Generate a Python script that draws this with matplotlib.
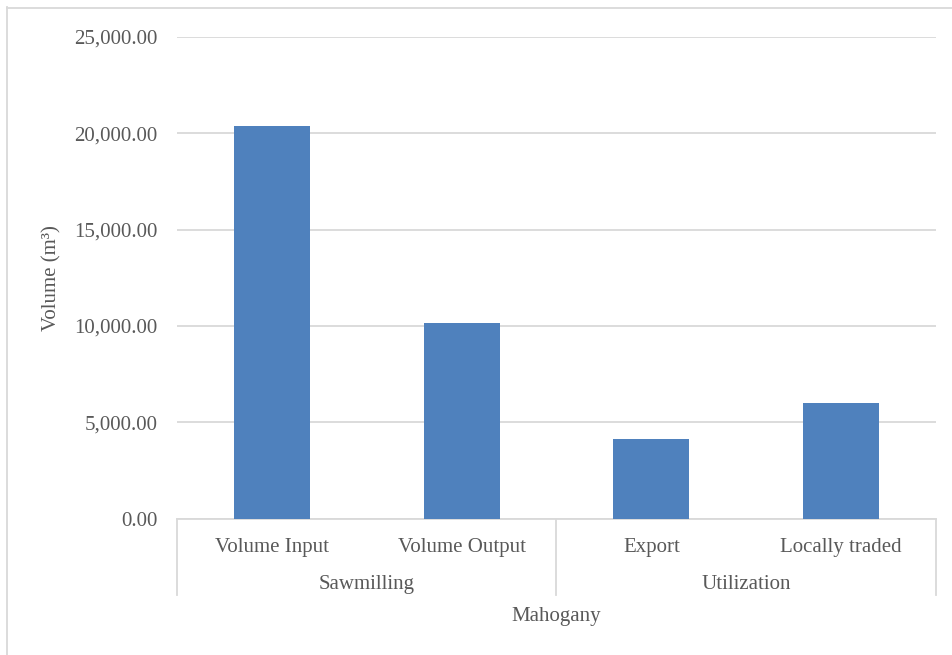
import matplotlib
matplotlib.use('Agg')
import matplotlib.pyplot as plt
from matplotlib.lines import Line2D
from matplotlib.ticker import FuncFormatter

# values (m3)
categories = ['Volume Input', 'Volume Output', 'Export', 'Locally traded']
groups = ['Sawmilling', 'Utilization']
group_sizes = [2, 2]
outer_label = 'Mahogany'
volumes = [20400, 10130, 4130, 5980]

bar_color = '#4f81bd'
grid_color = '#d9d9d9'
text_color = '#595959'

plt.rcParams['font.family'] = ['Liberation Serif', 'DejaVu Serif']
plt.rcParams['font.size'] = 15

W, H = 953, 655
fig = plt.figure(figsize=(W / 100, H / 100), dpi=100)

# plot area in pixels
x0, x1 = 177, 936
y_top, y_bot = 37, 518.5
ax = fig.add_axes([x0 / W, 1 - y_bot / H, (x1 - x0) / W, (y_bot - y_top) / H])

xs = list(range(len(categories)))
ax.bar(xs, volumes, width=0.4, color=bar_color, zorder=3)

ax.set_xlim(-0.5, len(categories) - 0.5)
ax.set_ylim(0, 25000)
ax.set_yticks(range(0, 25001, 5000))
ax.yaxis.set_major_formatter(FuncFormatter(lambda v, p: '{:,.2f}'.format(v)))
ax.tick_params(axis='y', length=0, pad=14, labelcolor=text_color)
ax.set_xticks([])
ax.grid(axis='y', color=grid_color, linewidth=1.3, zorder=0)
for s in ['top', 'right', 'left']:
    ax.spines[s].set_visible(False)
ax.spines['bottom'].set_color(grid_color)
ax.spines['bottom'].set_linewidth(1.3)

# multi-level category axis
ph = y_bot - y_top
trans = ax.get_xaxis_transform()
line_end = -(595 - y_bot) / ph
bounds = [-0.5]
for n in group_sizes:
    bounds.append(bounds[-1] + n)
for b in bounds:
    ax.plot([b, b], [0, line_end], transform=trans, color=grid_color,
            linewidth=1.3, clip_on=False)

for x, lab in zip(xs, categories):
    ax.text(x, -(552 - y_bot) / ph, lab, transform=trans, ha='center',
            va='baseline', color=text_color)
for i, g in enumerate(groups):
    mid = (bounds[i] + bounds[i + 1]) / 2
    ax.text(mid, -(589 - y_bot) / ph, g, transform=trans, ha='center',
            va='baseline', color=text_color)
ax.text((bounds[0] + bounds[-1]) / 2, -(621 - y_bot) / ph, outer_label,
        transform=trans, ha='center', va='baseline', color=text_color)

fig.text(52 / W, 1 - 278 / H, 'Volume (m³)', rotation=90, ha='center',
         va='center', color=text_color)

# chart area border (only top and left visible in the crop)
fig.add_artist(Line2D([7.5 / W, 7.5 / W], [0, 1 - 7 / H], color=grid_color, linewidth=1.3))
fig.add_artist(Line2D([7 / W, 1], [1 - 7.5 / H, 1 - 7.5 / H], color=grid_color, linewidth=1.3))

fig.savefig('out.png', dpi=100)
